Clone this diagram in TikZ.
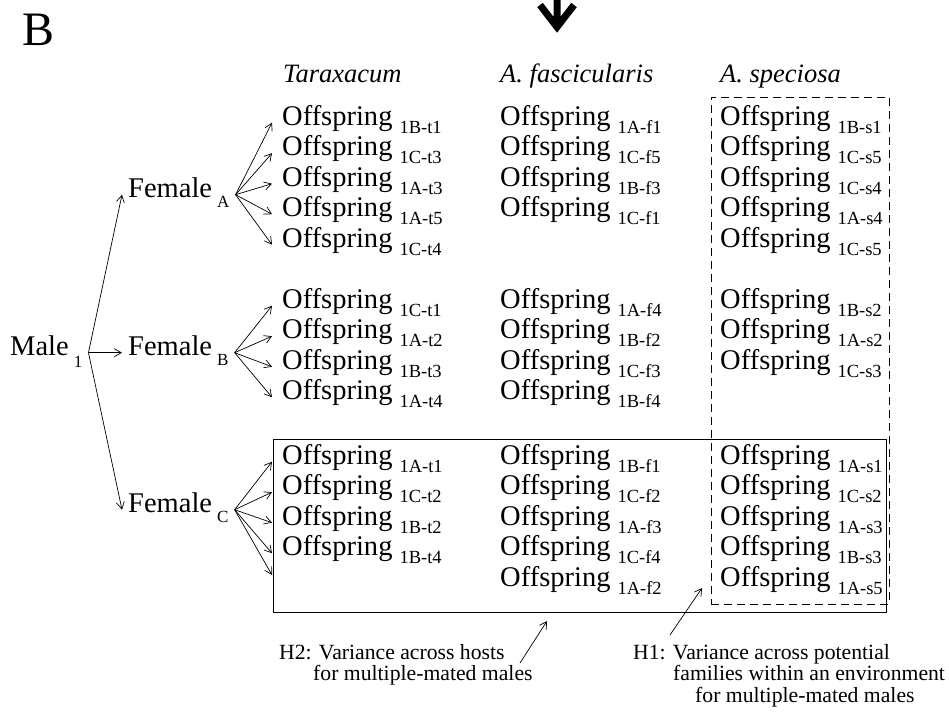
\documentclass[tikz,border=0pt]{standalone}
\usepackage{fontspec}
\setmainfont{Liberation Serif}
\usepackage{tikz}
\usetikzlibrary{arrows.meta}
\newcommand{\offs}[1]{Offspring\hspace{7pt}\raisebox{-8pt}{\fontsize{18.5}{18.5}\selectfont #1}}
\newcommand{\lowtag}[2]{\hspace{5pt}\raisebox{-#1}{\fontsize{17}{17}\selectfont #2}}

\begin{document}
\begin{tikzpicture}[x=1pt, y=-1pt, >={Straight Barb[length=7pt,width=8pt]},
  lbl/.style={anchor=base west, inner xsep=6pt, inner ysep=2pt, font=\fontsize{28.5}{34}\selectfont},
  kid/.style={anchor=base west, inner xsep=10pt, inner ysep=2pt, font=\fontsize{28.5}{34}\selectfont},
  host/.style={anchor=base west, inner sep=0pt, font=\fontsize{26.5}{30}\selectfont\itshape},
  note/.style={anchor=north west, inner sep=0pt, align=left, font=\fontsize{21.7}{21.5}\selectfont},
  link/.style={->, line width=0.7pt}]
  \useasboundingbox (0,0) rectangle (949,713);

  % boxes for the two hypotheses
  \node[draw, line width=0.9pt, minimum width=613pt, minimum height=173pt, inner sep=0pt, anchor=north west] (hostbox) at (273,439) {};
  \node[draw, line width=0.7pt, dash pattern=on 8pt off 5pt, minimum width=178pt, minimum height=507pt, inner sep=0pt, anchor=north west] (famibox) at (711,97) {};

  % panel letter and heavy arrow
  \node[anchor=base west, inner sep=0pt, font=\fontsize{48}{48}\selectfont] (panel) at (22,45) {B};
  \draw[line width=7pt, line join=miter] (540,5) -- (557,27) -- (574,5) (557,0) -- (557,27);

  % hosts
  \node[host] (tara) at (283,82) {Taraxacum};
  \node[host] (fasc) at (500,82) {A. fascicularis};
  \node[host] (spec) at (720,82) {A. speciosa};

  % parents
  \node[lbl] (male) at (4,355) {Male\lowtag{12pt}{1}};
  \node[lbl] (femA) at (122,197) {Female\lowtag{10pt}{A}};
  \node[lbl] (femB) at (122,355) {Female\lowtag{10pt}{B}};
  \node[lbl] (femC) at (122,512) {Female\lowtag{10pt}{C}};

  % Taraxacum
  \node[kid] (ta1) at (272,125) {\offs{1B-t1}};
  \node[kid] (ta2) at (272,155.5) {\offs{1C-t3}};
  \node[kid] (ta3) at (272,186) {\offs{1A-t3}};
  \node[kid] (ta4) at (272,216.5) {\offs{1A-t5}};
  \node[kid] (ta5) at (272,247) {\offs{1C-t4}};
  \node[kid] (tb1) at (272,308) {\offs{1C-t1}};
  \node[kid] (tb2) at (272,338.5) {\offs{1A-t2}};
  \node[kid] (tb3) at (272,369) {\offs{1B-t3}};
  \node[kid] (tb4) at (272,399.5) {\offs{1A-t4}};
  \node[kid] (tc1) at (272,464) {\offs{1A-t1}};
  \node[kid] (tc2) at (272,494.5) {\offs{1C-t2}};
  \node[kid] (tc3) at (272,525) {\offs{1B-t2}};
  \node[kid] (tc4) at (272,555.5) {\offs{1B-t4}};
  \coordinate (tc5) at (272,575);

  % A. fascicularis
  \node[kid] (fa1) at (490,125) {\offs{1A-f1}};
  \node[kid] (fa2) at (490,155.5) {\offs{1C-f5}};
  \node[kid] (fa3) at (490,186) {\offs{1B-f3}};
  \node[kid] (fa4) at (490,216.5) {\offs{1C-f1}};
  \node[kid] (fb1) at (490,308) {\offs{1A-f4}};
  \node[kid] (fb2) at (490,338.5) {\offs{1B-f2}};
  \node[kid] (fb3) at (490,369) {\offs{1C-f3}};
  \node[kid] (fb4) at (490,399.5) {\offs{1B-f4}};
  \node[kid] (fc1) at (490,464) {\offs{1B-f1}};
  \node[kid] (fc2) at (490,494.5) {\offs{1C-f2}};
  \node[kid] (fc3) at (490,525) {\offs{1A-f3}};
  \node[kid] (fc4) at (490,555.5) {\offs{1C-f4}};
  \node[kid] (fc5) at (490,586) {\offs{1A-f2}};

  % A. speciosa
  \node[kid] (sa1) at (710,125) {\offs{1B-s1}};
  \node[kid] (sa2) at (710,155.5) {\offs{1C-s5}};
  \node[kid] (sa3) at (710,186) {\offs{1C-s4}};
  \node[kid] (sa4) at (710,216.5) {\offs{1A-s4}};
  \node[kid] (sa5) at (710,247) {\offs{1C-s5}};
  \node[kid] (sb1) at (710,308) {\offs{1B-s2}};
  \node[kid] (sb2) at (710,338.5) {\offs{1A-s2}};
  \node[kid] (sb3) at (710,369) {\offs{1C-s3}};
  \node[kid] (sc1) at (710,464) {\offs{1A-s1}};
  \node[kid] (sc2) at (710,494.5) {\offs{1C-s2}};
  \node[kid] (sc3) at (710,525) {\offs{1A-s3}};
  \node[kid] (sc4) at (710,555.5) {\offs{1B-s3}};
  \node[kid] (sc5) at (710,586) {\offs{1A-s5}};

  % hypotheses
  \node[note] (h2) at (279,644) {H2: Variance across hosts\\\hspace*{34pt}for multiple-mated males};
  \node[note] (h1) at (633,644) {H1: Variance across potential\\\hspace*{40pt}families within an environment\\\hspace*{62pt}for multiple-mated males};
  \coordinate (h2tip) at (547,621);
  \coordinate (h1tip) at (702,588);

  \draw[link] (male.mid east) -- (femA.mid west);
  \draw[link] (male.mid east) -- (femB.mid west);
  \draw[link] (male.mid east) -- (femC.mid west);

  \draw[link] (femA.mid east) -- (ta1.mid west);
  \draw[link] (femA.mid east) -- (ta2.mid west);
  \draw[link] (femA.mid east) -- (ta3.mid west);
  \draw[link] (femA.mid east) -- (ta4.mid west);
  \draw[link] (femA.mid east) -- (ta5.mid west);

  \draw[link] (femB.mid east) -- (tb1.mid west);
  \draw[link] (femB.mid east) -- (tb2.mid west);
  \draw[link] (femB.mid east) -- (tb3.mid west);
  \draw[link] (femB.mid east) -- (tb4.mid west);

  \draw[link] (femC.mid east) -- (tc1.mid west);
  \draw[link] (femC.mid east) -- (tc2.mid west);
  \draw[link] (femC.mid east) -- (tc3.mid west);
  \draw[link] (femC.mid east) -- (tc4.mid west);
  \draw[link] (femC.mid east) -- (tc5);

  \draw[link] ([shift={(241,19)}]h2.north west) -- (h2tip);
  \draw[link] ([shift={(37,-9)}]h1.north west) -- (h1tip);
\end{tikzpicture}
\end{document}
